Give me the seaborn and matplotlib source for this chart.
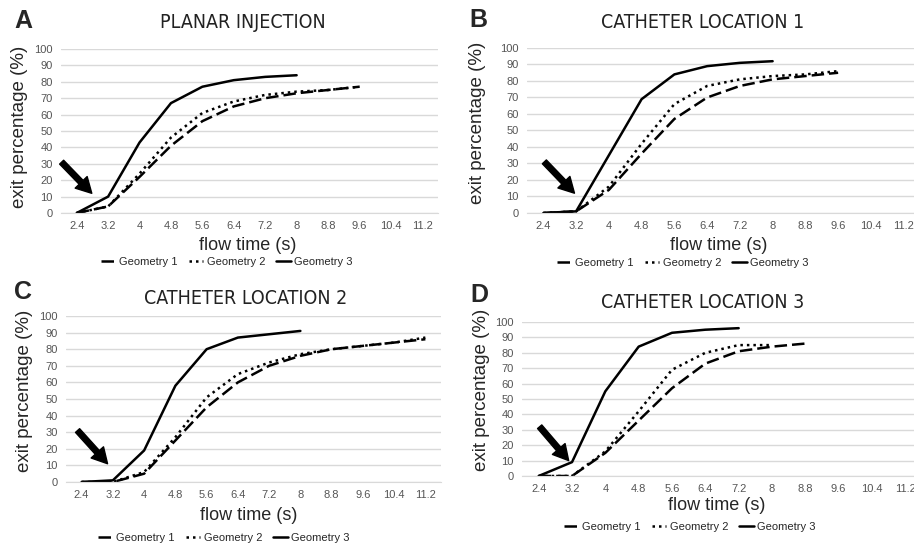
import pandas as pd
import seaborn as sns
import matplotlib.pyplot as plt

sns.set_style("white")
plt.rcParams['font.family'] = ['Liberation Sans', 'DejaVu Sans']

flow_times = ["2.4", "3.2", "4", "4.8", "5.6", "6.4", "7.2", "8", "8.8", "9.6", "10.4", "11.2"]
series_names = ["Geometry 1", "Geometry 2", "Geometry 3"]
panel_letters = ["A", "B", "C", "D"]
panel_titles = ["PLANAR INJECTION", "CATHETER LOCATION 1", "CATHETER LOCATION 2", "CATHETER LOCATION 3"]

# exit percentage (%) per flow time category
planar_g1 = [0, 4, 22, 41, 56, 65, 70, 73, 75, 77]
planar_g2 = [0, 4, 24, 46, 61, 68, 72, 74, 75, 77]
planar_g3 = [0, 10, 43, 67, 77, 81, 83, 84]

loc1_g1 = [0, 1, 14, 36, 57, 70, 77, 81, 83, 85]
loc1_g2 = [0, 1, 16, 42, 66, 77, 81, 83, 84, 86]
loc1_g3 = [0, 1, 35, 69, 84, 89, 91, 92]

loc2_g1 = [0, 0, 5, 25, 45, 60, 70, 76, 80, 82, 84, 86]
loc2_g2 = [0, 0, 6, 27, 51, 65, 72, 77, 80, 82, 84, 87]
loc2_g3 = [0, 1, 19, 58, 80, 87, 89, 91]

loc3_g1 = [0, 0, 15, 36, 57, 73, 81, 84, 86]
loc3_g2 = [0, 0, 16, 42, 69, 80, 85, 85]
loc3_g3 = [0, 9, 55, 84, 93, 95, 96]

panel_series = [
    [planar_g1, planar_g2, planar_g3],
    [loc1_g1, loc1_g2, loc1_g3],
    [loc2_g1, loc2_g2, loc2_g3],
    [loc3_g1, loc3_g2, loc3_g3],
]

# arrow tail / head in (category index, percent)
arrow_tails = [(-0.48, 31), (0.03, 31), (-0.13, 31), (0.03, 32)]
arrow_heads = [(0.48, 12), (0.95, 12), (0.83, 11), (0.9, 10)]

W, H = 914, 546


def fx(x):
    return x / W


def fy(y):
    return 1 - y / H


# layout in pixels of the original picture
axes_px = [(61, 49, 438, 213), (527, 48, 920, 213), (66, 316, 441, 482), (522, 322, 922, 476)]
letter_px = [(23, 21), (478, 20), (23, 292), (479, 295)]
title_px = [(243, 22), (703, 22), (246, 299), (703, 302)]
ylabel_px = [(20, 127), (477, 123), (25, 391), (481, 390)]
xlabel_px = [(248, 245), (719, 246), (249, 516), (717, 506)]
legend_px = [(227, 262), (683, 263), (224, 538), (690, 527)]

dash_map = {"Geometry 1": (5, 2), "Geometry 2": (1, 1.6), "Geometry 3": ""}

fig = plt.figure(figsize=(W / 100, H / 100), dpi=100)

for i in range(4):
    x0, y0, x1, y1 = axes_px[i]
    ax = fig.add_axes([fx(x0), fy(y1), fx(x1 - x0), (y1 - y0) / H])

    rows = []
    for name, vals in zip(series_names, panel_series[i]):
        for k, v in enumerate(vals):
            rows.append({"pos": k, "value": v, "series": name})
    df = pd.DataFrame(rows)

    sns.lineplot(data=df, x="pos", y="value", style="series", style_order=series_names,
                 dashes=dash_map, color="black", linewidth=1.8, ax=ax, legend=True)

    ax.set_xlim(-0.5, 11.5)
    ax.set_ylim(0, 100)
    ax.set_yticks(range(0, 101, 10))
    ax.set_xticks(range(len(flow_times)), flow_times)
    ax.set_xlabel("")
    ax.set_ylabel("")
    ax.yaxis.grid(True, color="#d9d9d9", linewidth=1)
    ax.set_axisbelow(True)
    for s in ["top", "right", "left"]:
        ax.spines[s].set_visible(False)
    ax.spines["bottom"].set_color("#d9d9d9")
    ax.tick_params(length=0, labelsize=8, labelcolor="#555555", pad=6)

    ax.annotate("", xy=arrow_heads[i], xytext=arrow_tails[i],
                arrowprops=dict(facecolor="black", edgecolor="black", width=4,
                                headwidth=12, headlength=11))

    handles, labels = ax.get_legend_handles_labels()
    ax.get_legend().remove()
    fig.legend(handles, labels, loc="center", bbox_to_anchor=(fx(legend_px[i][0]), fy(legend_px[i][1])),
               ncol=3, frameon=False, fontsize=8, handlelength=1.3, handletextpad=0.3,
               columnspacing=1.0)

    fig.text(fx(letter_px[i][0]), fy(letter_px[i][1]), panel_letters[i], fontsize=18,
             fontweight="bold", ha="center", va="center")
    fig.text(fx(title_px[i][0]), fy(title_px[i][1]), panel_titles[i], fontsize=14,
             family=["DejaVu Sans"], fontstretch="condensed", fontweight="light",
             color="#222222", ha="center", va="center")
    fig.text(fx(ylabel_px[i][0]), fy(ylabel_px[i][1]), "exit percentage (%)", fontsize=13.5,
             rotation=90, ha="center", va="center")
    fig.text(fx(xlabel_px[i][0]), fy(xlabel_px[i][1]), "flow time (s)", fontsize=13,
             ha="center", va="center")

fig.savefig("out.png", dpi=100)
